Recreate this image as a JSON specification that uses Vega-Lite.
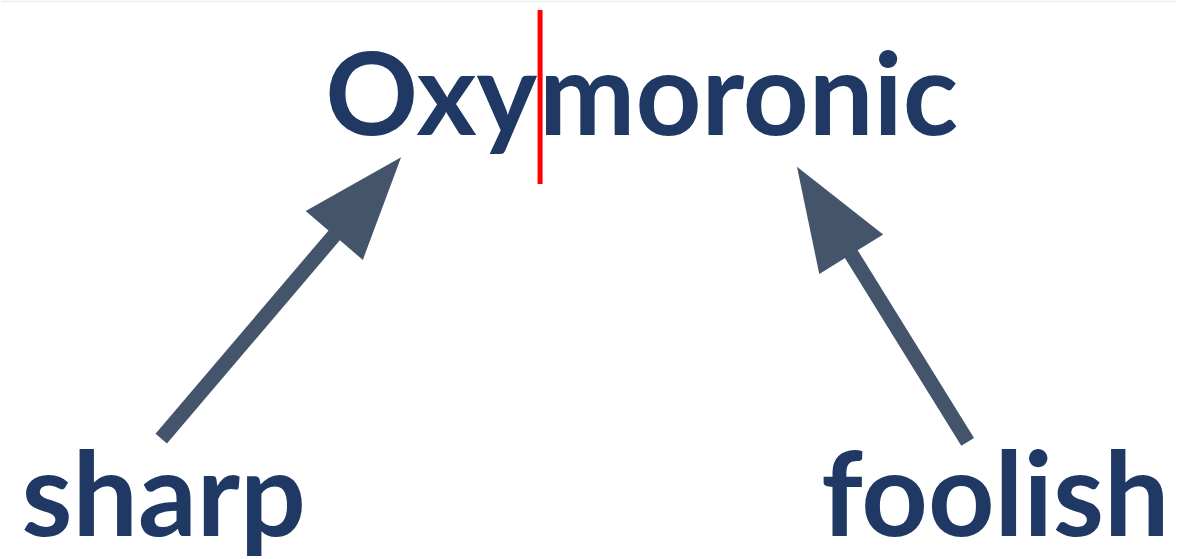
{
  "$schema": "https://vega.github.io/schema/vega-lite/v6.json",
  "width": 1177,
  "height": 559,
  "autosize": {"type": "fit", "contains": "padding"},
  "padding": 0,
  "background": "white",
  "config": {"view": {"stroke": null}},
  "layer": [
    {
      "data": {"values": [{"x": 0, "y": 0.5, "x2": 1177}]},
      "mark": {"type": "rule", "color": "#edf3f3", "strokeWidth": 2},
      "encoding": {
        "x": {"field": "x", "type": "quantitative", "scale": {"domain": [0, 1177]}, "axis": null},
        "x2": {"field": "x2"},
        "y": {"field": "y", "type": "quantitative", "scale": {"domain": [0, 559], "reverse": true}, "axis": null}
      }
    },
    {
      "data": {"values": [
        {"word": "Oxy", "x": 537, "y": 135}
      ]},
      "mark": {"type": "text", "font": "Lato", "fontWeight": "bold", "fontSize": 115, "align": "right", "baseline": "alphabetic", "color": "#203864"},
      "encoding": {
        "x": {"field": "x", "type": "quantitative", "scale": {"domain": [0, 1177]}, "axis": null},
        "y": {"field": "y", "type": "quantitative", "scale": {"domain": [0, 559], "reverse": true}, "axis": null},
        "text": {"field": "word"}
      }
    },
    {
      "data": {"values": [
        {"word": "moronic", "x": 539, "y": 135}
      ]},
      "mark": {"type": "text", "font": "Lato", "fontWeight": "bold", "fontSize": 115, "align": "left", "baseline": "alphabetic", "color": "#203864"},
      "encoding": {
        "x": {"field": "x", "type": "quantitative", "scale": {"domain": [0, 1177]}, "axis": null},
        "y": {"field": "y", "type": "quantitative", "scale": {"domain": [0, 559], "reverse": true}, "axis": null},
        "text": {"field": "word"}
      }
    },
    {
      "data": {"values": [
        {"word": "sharp", "x": 163, "y": 538},
        {"word": "foolish", "x": 996, "y": 538}
      ]},
      "mark": {"type": "text", "font": "Lato", "fontWeight": "bold", "fontSize": 116, "align": "center", "baseline": "alphabetic", "color": "#203864"},
      "encoding": {
        "x": {"field": "x", "type": "quantitative", "scale": {"domain": [0, 1177]}, "axis": null},
        "y": {"field": "y", "type": "quantitative", "scale": {"domain": [0, 559], "reverse": true}, "axis": null},
        "text": {"field": "word"}
      }
    },
    {
      "data": {"values": [{"x": 540, "y": 9, "y2": 184}]},
      "mark": {"type": "rule", "color": "#ff0000", "strokeWidth": 5},
      "encoding": {
        "x": {"field": "x", "type": "quantitative", "scale": {"domain": [0, 1177]}, "axis": null},
        "y": {"field": "y", "type": "quantitative", "scale": {"domain": [0, 559], "reverse": true}, "axis": null},
        "y2": {"field": "y2"}
      }
    },
    {
      "data": {"values": [
        {"arrow": "sharp", "x": 160.5, "y": 440, "x2": 336, "y2": 233},
        {"arrow": "foolish", "x": 968.3, "y": 443.3, "x2": 850.5, "y2": 252.5}
      ]},
      "mark": {"type": "rule", "color": "#44546a", "strokeWidth": 15, "strokeCap": "butt"},
      "encoding": {
        "x": {"field": "x", "type": "quantitative", "scale": {"domain": [0, 1177]}, "axis": null},
        "y": {"field": "y", "type": "quantitative", "scale": {"domain": [0, 559], "reverse": true}, "axis": null},
        "x2": {"field": "x2"},
        "y2": {"field": "y2"}
      }
    },
    {
      "data": {"values": [
        {"arrow": "sharp", "x": 367.3, "y": 196.4, "direction": 40.5},
        {"arrow": "foolish", "x": 824.5, "y": 210.6, "direction": 328.2}
      ]},
      "mark": {"type": "point", "shape": "M0,-1L0.73,1L-0.73,1Z", "size": 10600, "filled": true, "opacity": 1, "color": "#44546a", "strokeWidth": 0},
      "encoding": {
        "x": {"field": "x", "type": "quantitative", "scale": {"domain": [0, 1177]}, "axis": null},
        "y": {"field": "y", "type": "quantitative", "scale": {"domain": [0, 559], "reverse": true}, "axis": null},
        "angle": {"field": "direction", "type": "quantitative", "scale": null}
      }
    }
  ]
}
